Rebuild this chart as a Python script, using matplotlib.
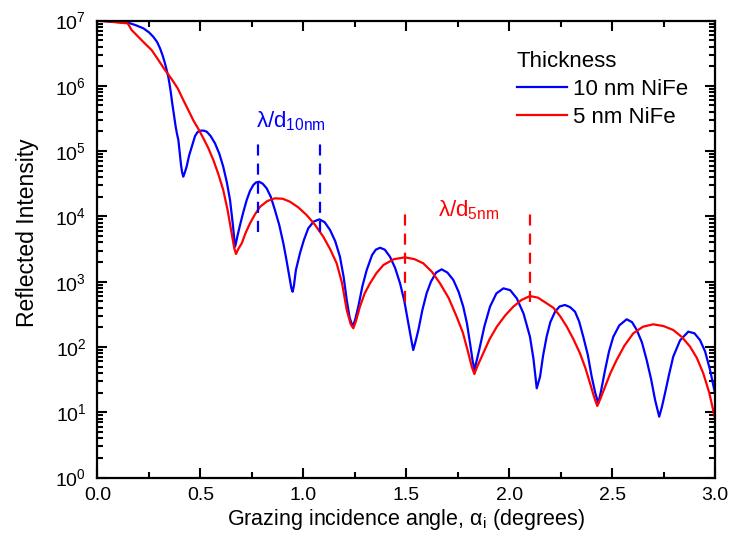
import numpy as np
import matplotlib.pyplot as plt
from matplotlib.ticker import MultipleLocator, LogLocator

plt.rcParams['font.family'] = ['Liberation Sans', 'DejaVu Sans']
plt.rcParams['mathtext.default'] = 'regular'

# values, intensity given as log10(counts)
# 10 nm NiFe film (blue)
angle_10nm = [0.000, 0.061, 0.150, 0.185, 0.223, 0.250, 0.271, 0.290, 0.304, 0.316,
              0.328, 0.336, 0.344, 0.351, 0.357, 0.362, 0.368, 0.374, 0.380, 0.386,
              0.393, 0.399, 0.406, 0.411, 0.417, 0.425, 0.433, 0.445, 0.458, 0.474,
              0.486, 0.498, 0.515, 0.531, 0.550, 0.571, 0.592, 0.611, 0.628, 0.644,
              0.658, 0.665, 0.668, 0.672, 0.680, 0.692, 0.708, 0.725, 0.741, 0.757,
              0.770, 0.785, 0.803, 0.822, 0.842, 0.862, 0.883, 0.903, 0.916, 0.930,
              0.942, 0.948, 0.954, 0.964, 0.984, 1.003, 1.024, 1.050, 1.078, 1.104,
              1.130, 1.155, 1.178, 1.196, 1.211, 1.225, 1.240, 1.252, 1.267, 1.287,
              1.308, 1.334, 1.352, 1.373, 1.396, 1.421, 1.446, 1.470, 1.491, 1.510,
              1.524, 1.534, 1.545, 1.559, 1.578, 1.599, 1.620, 1.645, 1.672, 1.700,
              1.729, 1.755, 1.777, 1.795, 1.810, 1.822, 1.831, 1.843, 1.858, 1.880,
              1.907, 1.938, 1.972, 2.005, 2.037, 2.070, 2.101, 2.118, 2.134, 2.150,
              2.165, 2.182, 2.200, 2.223, 2.245, 2.271, 2.296, 2.320, 2.340, 2.360,
              2.382, 2.401, 2.418, 2.433, 2.446, 2.466, 2.485, 2.506, 2.535, 2.571,
              2.597, 2.620, 2.645, 2.668, 2.690, 2.709, 2.729, 2.742, 2.757, 2.777,
              2.797, 2.830, 2.870, 2.900, 2.927, 2.952, 2.976, 3.000]
log_inten_10nm = [7.000, 6.985, 6.966, 6.930, 6.881, 6.820, 6.752, 6.670, 6.574, 6.470,
                  6.344, 6.245, 6.139, 6.010, 5.885, 5.760, 5.629, 5.500, 5.373, 5.270,
                  5.170, 5.000, 4.787, 4.680, 4.608, 4.680, 4.761, 4.930, 5.067, 5.231,
                  5.290, 5.312, 5.315, 5.297, 5.230, 5.119, 4.960, 4.761, 4.530, 4.251,
                  3.868, 3.640, 3.535, 3.580, 3.700, 3.860, 4.060, 4.251, 4.390, 4.480,
                  4.520, 4.531, 4.500, 4.430, 4.300, 4.098, 3.870, 3.588, 3.370, 3.120,
                  2.900, 2.846, 2.930, 3.179, 3.439, 3.640, 3.817, 3.920, 3.955, 3.910,
                  3.791, 3.620, 3.382, 3.070, 2.719, 2.450, 2.310, 2.420, 2.617, 2.930,
                  3.179, 3.408, 3.490, 3.520, 3.490, 3.382, 3.210, 2.975, 2.700, 2.362,
                  2.120, 1.953, 2.080, 2.260, 2.560, 2.822, 3.000, 3.140, 3.189, 3.140,
                  3.025, 2.840, 2.617, 2.360, 2.056, 1.800, 1.647, 1.800, 2.004, 2.320,
                  2.617, 2.820, 2.898, 2.870, 2.745, 2.510, 2.157, 1.820, 1.367, 1.544,
                  1.870, 2.157, 2.380, 2.540, 2.620, 2.643, 2.610, 2.540, 2.390, 2.157,
                  1.880, 1.544, 1.300, 1.137, 1.320, 1.647, 1.930, 2.157, 2.330, 2.424,
                  2.380, 2.260, 2.070, 1.800, 1.500, 1.187, 0.932, 1.080, 1.290, 1.580,
                  1.851, 2.100, 2.234, 2.210, 2.106, 1.930, 1.647, 1.290]

# 5 nm NiFe film (red)
angle_5nm = [0.000, 0.147, 0.166, 0.198, 0.230, 0.263, 0.295, 0.328, 0.345, 0.361,
             0.390, 0.417, 0.441, 0.465, 0.490, 0.514, 0.538, 0.563, 0.587, 0.611,
             0.632, 0.652, 0.664, 0.673, 0.684, 0.701, 0.720, 0.741, 0.765, 0.790,
             0.825, 0.862, 0.900, 0.935, 0.975, 1.016, 1.057, 1.097, 1.130, 1.162,
             1.188, 1.211, 1.230, 1.243, 1.256, 1.275, 1.298, 1.324, 1.355, 1.389,
             1.440, 1.494, 1.540, 1.583, 1.625, 1.664, 1.706, 1.745, 1.775, 1.802,
             1.818, 1.831, 1.845, 1.855, 1.874, 1.905, 1.940, 1.980, 2.020, 2.060,
             2.101, 2.140, 2.182, 2.215, 2.248, 2.280, 2.312, 2.344, 2.370, 2.393,
             2.412, 2.428, 2.445, 2.466, 2.492, 2.522, 2.560, 2.603, 2.650, 2.700,
             2.750, 2.797, 2.840, 2.879, 2.912, 2.943, 2.972, 3.000]
log_inten_5nm = [7.000, 6.957, 6.855, 6.752, 6.650, 6.548, 6.400, 6.242, 6.170, 6.100,
                 5.960, 5.782, 5.630, 5.476, 5.340, 5.200, 5.050, 4.863, 4.650, 4.404,
                 4.100, 3.741, 3.520, 3.424, 3.500, 3.588, 3.750, 3.894, 4.030, 4.148,
                 4.235, 4.277, 4.270, 4.225, 4.140, 4.021, 3.870, 3.689, 3.500, 3.281,
                 2.980, 2.566, 2.350, 2.286, 2.400, 2.617, 2.820, 2.975, 3.130, 3.255,
                 3.345, 3.373, 3.345, 3.281, 3.150, 2.975, 2.750, 2.463, 2.220, 1.903,
                 1.700, 1.586, 1.700, 1.770, 1.903, 2.120, 2.310, 2.480, 2.617, 2.720,
                 2.780, 2.755, 2.669, 2.600, 2.470, 2.310, 2.120, 1.903, 1.680, 1.443,
                 1.240, 1.096, 1.220, 1.391, 1.600, 1.800, 2.020, 2.209, 2.310, 2.347,
                 2.320, 2.260, 2.150, 2.004, 1.830, 1.596, 1.300, 0.907]

# fringe period markers (peak positions)
peaks_10nm = [0.781, 1.081]
peaks_5nm = [1.494, 2.101]

fig = plt.figure(figsize=(7.29, 5.48), dpi=100)
ax = fig.add_axes([0.1337, 0.1286, 0.8471, 0.8339])

ax.plot(angle_10nm, np.power(10.0, log_inten_10nm), color='#0000ff', lw=1.6,
        label='10 nm NiFe')
ax.plot(angle_5nm, np.power(10.0, log_inten_5nm), color='#ff0000', lw=1.6,
        label='5 nm NiFe')

ax.vlines(peaks_10nm, 5.8e3, 1.6e5, colors='#0000ff', lw=1.6, linestyles=(0, (5.0, 3.6)))
ax.vlines(peaks_5nm, 4.8e2, 1.25e4, colors='#ff0000', lw=1.6, linestyles=(0, (5.0, 3.6)))

ax.text(0.772, 2.3e5, r'λ/d$_{10nm}$', color='#0000ff', fontsize=16)
ax.text(1.652, 9.9e3, r'λ/d$_{5nm}$', color='#ff0000', fontsize=16)

ax.set_yscale('log')
ax.set_xlim(0, 3.0)
ax.set_ylim(1, 1e7)
ax.xaxis.set_major_locator(MultipleLocator(0.5))
ax.xaxis.set_minor_locator(MultipleLocator(0.25))
ax.xaxis.set_major_formatter(plt.FormatStrFormatter('%.1f'))
ax.yaxis.set_major_locator(LogLocator(base=10, numticks=10))
ax.yaxis.set_minor_locator(LogLocator(base=10, subs=range(2, 10), numticks=20))

ax.tick_params(which='both', direction='in', top=True, right=True, width=1.5)
ax.tick_params(which='major', length=7, labelsize=14)
ax.tick_params(which='minor', length=4)
ax.tick_params(axis='x', pad=7)
ax.tick_params(axis='y', pad=8)
for sp in ax.spines.values():
    sp.set_linewidth(1.6)

ax.set_xlabel(r'Grazing incidence angle, α$_i$ (degrees)', fontsize=15.5, labelpad=2)
ax.set_ylabel('Reflected Intensity', fontsize=16.5, labelpad=12)
ax.yaxis.label.set_y(0.535)

ax.legend(title='Thickness', fontsize=16, title_fontsize=16, frameon=False,
          loc='upper left', bbox_to_anchor=(0.679, 0.933), borderpad=0,
          borderaxespad=0, handlelength=2.25, handletextpad=0.3,
          labelspacing=0.3, alignment='left')

fig.savefig('out.png', dpi=100)
